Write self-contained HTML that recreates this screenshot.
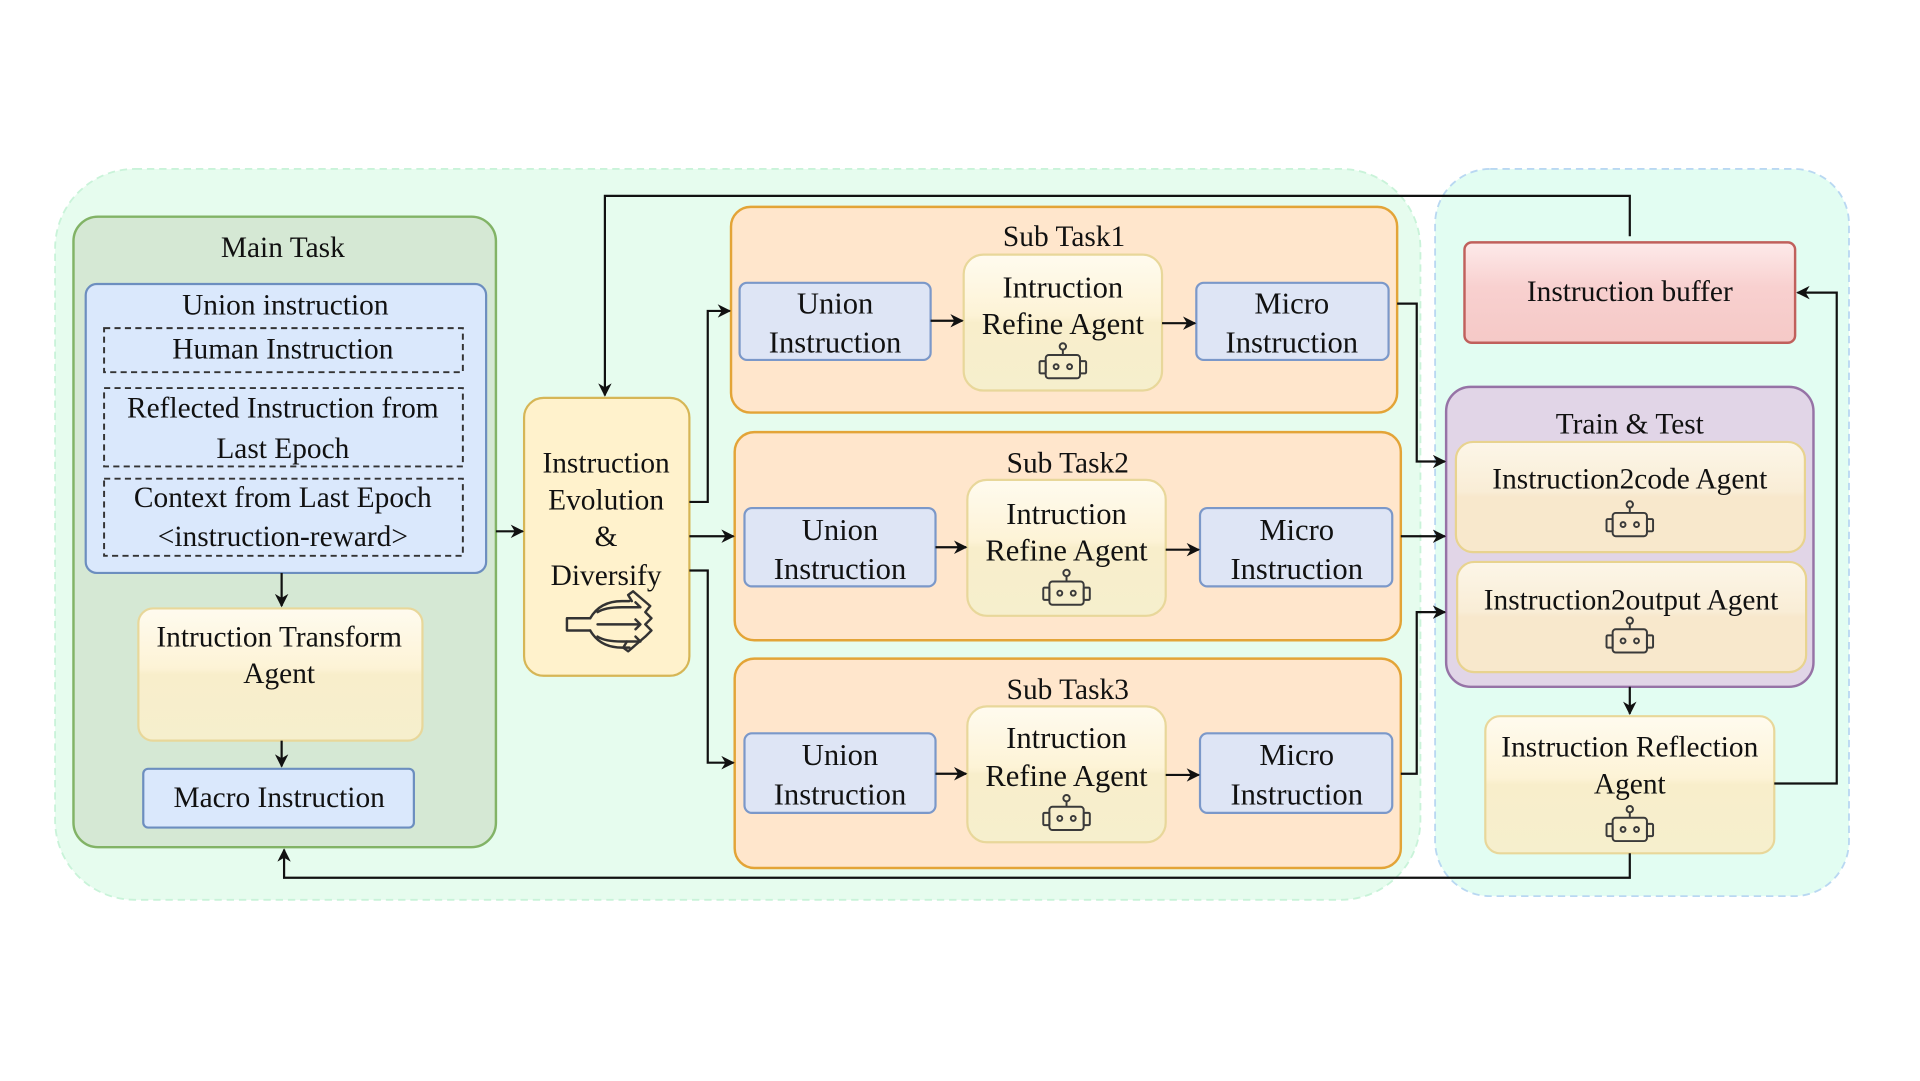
<!DOCTYPE html>
<html><head><meta charset="utf-8"><style>
html,body{margin:0;padding:0;background:#fff;width:1920px;height:1081px;overflow:hidden}
text{font-family:"Liberation Serif","Times New Roman",serif;fill:#111;text-anchor:middle}
</style></head><body>
<svg width="1920" height="1081" viewBox="0 0 1568 883" preserveAspectRatio="none" xmlns="http://www.w3.org/2000/svg">
<defs>
<marker id="a" viewBox="0 0 10 10" refX="9" refY="5" markerWidth="11" markerHeight="11" orient="auto-start-reverse" markerUnits="userSpaceOnUse"><path d="M0,0 L10,5 L0,10 L3,5 z" fill="#111"/></marker>
<linearGradient id="ag" x1="0" y1="0" x2="0" y2="1"><stop offset="0" stop-color="#fffbef"/><stop offset="0.45" stop-color="#fdf3d6"/><stop offset="0.5" stop-color="#f8eecb"/><stop offset="1" stop-color="#f6efcd"/></linearGradient>
<linearGradient id="ag2" x1="0" y1="0" x2="0" y2="1"><stop offset="0" stop-color="#fcf6e8"/><stop offset="0.45" stop-color="#f9edd6"/><stop offset="0.5" stop-color="#f8e8cc"/><stop offset="1" stop-color="#f8e8cc"/></linearGradient>
<linearGradient id="rg" x1="0" y1="0" x2="0" y2="1"><stop offset="0" stop-color="#fdeaea"/><stop offset="0.45" stop-color="#f8d0cf"/><stop offset="1" stop-color="#f5c9c7"/></linearGradient>
<g id="bot" fill="none" stroke="#3a3a3a" stroke-width="1.6">
<circle cx="0" cy="-14" r="2.6"/><line x1="0" y1="-11.4" x2="0" y2="-7"/>
<rect x="-14" y="-7" width="28" height="19" rx="2.5"/>
<rect x="-19" y="-2" width="5" height="10" rx="1"/><rect x="14" y="-2" width="5" height="10" rx="1"/>
<circle cx="-5.5" cy="2.5" r="2"/><circle cx="5.5" cy="2.5" r="2"/>
</g>
</defs>

<rect x="45" y="138" width="1115" height="597" rx="65" fill="#e6fcee" stroke="#c9f3d9" stroke-width="1.5" stroke-dasharray="6 4"/>
<rect x="1172" y="138" width="338" height="594" rx="45" fill="#e2fdf2" stroke="#b9d8f2" stroke-width="1.5" stroke-dasharray="6 4"/>

<rect x="60" y="177" width="345" height="515" rx="20" fill="#d5e8d4" stroke="#82b366" stroke-width="2"/>
<text x="231" y="210" font-size="24">Main Task</text>
<rect x="70" y="232" width="327" height="236" rx="9" fill="#dae8fc" stroke="#6c8ebf" stroke-width="1.8"/>
<text x="233" y="257" font-size="24">Union instruction</text>
<g fill="none" stroke="#333" stroke-width="1.6" stroke-dasharray="5 3.5">
<rect x="85" y="268" width="293" height="36"/>
<rect x="85" y="317" width="293" height="64"/>
<rect x="85" y="391" width="293" height="63"/>
</g>
<text x="231" y="293" font-size="24">Human Instruction</text>
<text x="231" y="341" font-size="24">Reflected Instruction  from</text>
<text x="231" y="374" font-size="24">Last Epoch</text>
<text x="231" y="414" font-size="24">Context from Last Epoch</text>
<text x="231" y="446" font-size="24">&lt;instruction-reward&gt;</text>
<rect x="113" y="497" width="232" height="108" rx="12" fill="url(#ag)" stroke="#e8d79a" stroke-width="1.8"/>
<text x="228" y="528" font-size="24">Intruction Transform</text>
<text x="228" y="558" font-size="24">Agent</text>
<rect x="117" y="628" width="221" height="48" rx="4" fill="#dae8fc" stroke="#6c8ebf" stroke-width="1.8"/>
<text x="228" y="659" font-size="24">Macro Instruction</text>

<rect x="428" y="325" width="135" height="227" rx="16" fill="#fff2cc" stroke="#d6b656" stroke-width="1.8"/>
<text x="495" y="386" font-size="24">Instruction</text>
<text x="495" y="416" font-size="24">Evolution</text>
<text x="495" y="446" font-size="24">&amp;</text>
<text x="495" y="478" font-size="24">Diversify</text>
<g fill="none" stroke="#333" stroke-width="2" stroke-linecap="round" stroke-linejoin="round">
<path d="M482,505 h-19 v10 h19"/>
<path d="M482,505 q8,-14 26,-14 h6 M482,515 q8,14 26,14 h6"/>
<path d="M488,500 q6,-4 20,-4 h14 M488,510 h34 M488,520 q6,4 20,4 h14"/>
<path d="M516,491 l-3,-5 l4,-3 l14,12 l-4,5 l5,5 l-5,5 l5,5 l-5,5 l-14,12 l-4,-3 l3,-5"/>
<path d="M519,492 l4,4 M519,506 l4,4 l-4,4 M519,520 l4,4"/>
</g>

<g>
<rect x="597" y="169" width="544" height="168" rx="16" fill="#ffe6cc" stroke="#e3a437" stroke-width="2"/>
<text x="869" y="201" font-size="24">Sub Task1</text>
<rect x="604" y="231" width="156" height="63" rx="6" fill="#dee5f5" stroke="#7b98c9" stroke-width="1.8"/>
<text x="682" y="256" font-size="25">Union</text><text x="682" y="288" font-size="25">Instruction</text>
<rect x="787" y="208" width="162" height="111" rx="16" fill="url(#ag)" stroke="#e8d79a" stroke-width="1.8"/>
<text x="868" y="243" font-size="25">Intruction</text><text x="868" y="273" font-size="25">Refine Agent</text>
<use href="#bot" x="868" y="297"/>
<rect x="977" y="231" width="157" height="63" rx="6" fill="#dee5f5" stroke="#7b98c9" stroke-width="1.8"/>
<text x="1055" y="256" font-size="25">Micro</text><text x="1055" y="288" font-size="25">Instruction</text>
</g>
<g>
<rect x="600" y="353" width="544" height="170" rx="16" fill="#ffe6cc" stroke="#e3a437" stroke-width="2"/>
<text x="872" y="386" font-size="24">Sub Task2</text>
<rect x="608" y="415" width="156" height="64" rx="6" fill="#dee5f5" stroke="#7b98c9" stroke-width="1.8"/>
<text x="686" y="441" font-size="25">Union</text><text x="686" y="473" font-size="25">Instruction</text>
<rect x="790" y="392" width="162" height="111" rx="16" fill="url(#ag)" stroke="#e8d79a" stroke-width="1.8"/>
<text x="871" y="428" font-size="25">Intruction</text><text x="871" y="458" font-size="25">Refine Agent</text>
<use href="#bot" x="871" y="482"/>
<rect x="980" y="415" width="157" height="64" rx="6" fill="#dee5f5" stroke="#7b98c9" stroke-width="1.8"/>
<text x="1059" y="441" font-size="25">Micro</text><text x="1059" y="473" font-size="25">Instruction</text>
</g>
<g>
<rect x="600" y="538" width="544" height="171" rx="16" fill="#ffe6cc" stroke="#e3a437" stroke-width="2"/>
<text x="872" y="571" font-size="24">Sub Task3</text>
<rect x="608" y="599" width="156" height="65" rx="6" fill="#dee5f5" stroke="#7b98c9" stroke-width="1.8"/>
<text x="686" y="625" font-size="25">Union</text><text x="686" y="657" font-size="25">Instruction</text>
<rect x="790" y="577" width="162" height="111" rx="16" fill="url(#ag)" stroke="#e8d79a" stroke-width="1.8"/>
<text x="871" y="611" font-size="25">Intruction</text><text x="871" y="642" font-size="25">Refine Agent</text>
<use href="#bot" x="871" y="666"/>
<rect x="980" y="599" width="157" height="65" rx="6" fill="#dee5f5" stroke="#7b98c9" stroke-width="1.8"/>
<text x="1059" y="625" font-size="25">Micro</text><text x="1059" y="657" font-size="25">Instruction</text>
</g>

<rect x="1196" y="198" width="270" height="82" rx="6" fill="url(#rg)" stroke="#c0605c" stroke-width="2"/>
<text x="1331" y="246" font-size="24">Instruction buffer</text>
<rect x="1181" y="316" width="300" height="245" rx="20" fill="#e1d5e7" stroke="#9673a6" stroke-width="2"/>
<text x="1331" y="354" font-size="24">Train &amp; Test</text>
<rect x="1189" y="361" width="285" height="90" rx="14" fill="url(#ag2)" stroke="#e8d38f" stroke-width="1.8"/>
<text x="1331" y="399" font-size="24">Instruction2code Agent</text>
<use href="#bot" x="1331" y="426"/>
<rect x="1190" y="459" width="285" height="90" rx="14" fill="url(#ag2)" stroke="#e8d38f" stroke-width="1.8"/>
<text x="1332" y="498" font-size="24">Instruction2output Agent</text>
<use href="#bot" x="1331" y="521"/>
<rect x="1213" y="585" width="236" height="112" rx="12" fill="url(#ag)" stroke="#e8d79a" stroke-width="1.8"/>
<text x="1331" y="618" font-size="24">Instruction Reflection</text>
<text x="1331" y="648" font-size="24">Agent</text>
<use href="#bot" x="1331" y="675"/>

<g fill="none" stroke="#111" stroke-width="1.8">
<path d="M230,468 V495" marker-end="url(#a)"/>
<path d="M230,605 V626" marker-end="url(#a)"/>
<path d="M405,434 H427" marker-end="url(#a)"/>
<path d="M1331,193 V160 H494 V323" marker-end="url(#a)"/>
<path d="M563,410 H578 V254 H596" marker-end="url(#a)"/>
<path d="M563,438 H599" marker-end="url(#a)"/>
<path d="M563,466 H578 V623 H599" marker-end="url(#a)"/>
<path d="M760,262 H786" marker-end="url(#a)"/>
<path d="M949,264 H976" marker-end="url(#a)"/>
<path d="M764,447 H789" marker-end="url(#a)"/>
<path d="M952,449 H979" marker-end="url(#a)"/>
<path d="M764,632 H789" marker-end="url(#a)"/>
<path d="M952,633 H979" marker-end="url(#a)"/>
<path d="M1141,248 H1157 V377 H1180" marker-end="url(#a)"/>
<path d="M1144,438 H1180" marker-end="url(#a)"/>
<path d="M1144,632 H1157 V500 H1180" marker-end="url(#a)"/>
<path d="M1331,561 V583" marker-end="url(#a)"/>
<path d="M1449,640 H1500 V239 H1468" marker-end="url(#a)"/>
<path d="M1331,697 V717 H232 V694" marker-end="url(#a)"/>
</g>
</svg>
</body></html>
